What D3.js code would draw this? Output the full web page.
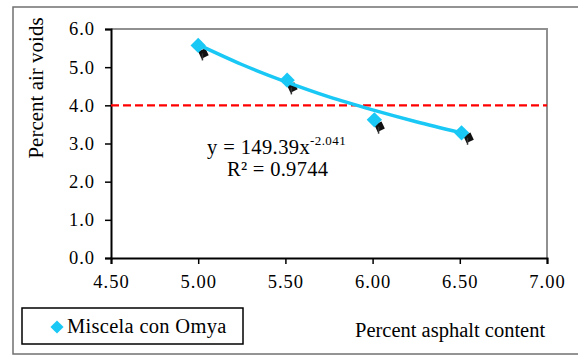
<!DOCTYPE html>
<html>
<head>
<meta charset="utf-8">
<script src="https://cdn.jsdelivr.net/npm/d3@7"></script>
<style>
  body { margin: 0; background: #fff; }
  svg { display: block; font-family: "Liberation Serif", "Times New Roman", serif; }
</style>
</head>
<body>
<svg id="chart" width="578" height="355"></svg>
<script>
// measured points (Miscela con Omya)
const asphalt = [5.00, 5.51, 6.01, 6.51]
const airVoids = [5.57, 4.66, 3.62, 3.28]
// dark shadow markers drawn under the cyan ones
const shadowX = [5.03, 5.54, 6.04, 6.55]
const shadowY = [5.36, 4.47, 3.44, 3.15]
// power trendline
const trendX = [5.00, 5.25, 5.50, 5.75, 6.00, 6.25, 6.50]
const trendY = [5.59, 5.07, 4.62, 4.22, 3.88, 3.57, 3.29]
const xTicks = [4.5, 5.0, 5.5, 6.0, 6.5, 7.0]
const yTicks = [0, 1, 2, 3, 4, 5, 6]
const limitLine = 4.0
const seriesName = 'Miscela con Omya'

const svg = d3.select('#chart')
const cyan = '#19c8f5'

// outer frame
svg.append('rect')
    .attr('x', 13).attr('y', 7)
    .attr('width', 580).attr('height', 347)
    .attr('fill', 'none')
    .attr('stroke', '#707070')
    .attr('stroke-width', 1.5)

const plotL = 111, plotR = 547, plotT = 29, plotB = 258

const x = d3.scaleLinear().domain([4.5, 7.0]).range([plotL, plotR])
const y = d3.scaleLinear().domain([0, 6]).range([plotB, plotT])

// plot area border (top/right grey)
svg.append('path')
    .attr('d', `M${plotL},${plotT}H${plotR}V${plotB}`)
    .attr('fill', 'none')
    .attr('stroke', '#909090')
    .attr('stroke-width', 2)

// y axis
const yAxis = svg.append('g')
    .attr('transform', `translate(${plotL},0)`)
    .call(d3.axisLeft(y).tickValues(yTicks).tickFormat(d3.format('.1f')).tickSize(6).tickPadding(10))
yAxis.select('.domain').attr('stroke', '#000').attr('stroke-width', 2)
yAxis.selectAll('.tick line').attr('stroke', '#000').attr('stroke-width', 1.5)
yAxis.selectAll('.tick text')
    .style('font-size', '18.5px')
    .style('letter-spacing', '1px')
    .style('font-family', '"Liberation Serif", serif')
    .attr('fill', '#000')

// x axis
const xAxis = svg.append('g')
    .attr('transform', `translate(0,${plotB})`)
    .call(d3.axisBottom(x).tickValues(xTicks).tickFormat(d3.format('.2f')).tickSize(6).tickPadding(11))
xAxis.select('.domain').attr('stroke', '#000').attr('stroke-width', 2)
xAxis.selectAll('.tick line').attr('stroke', '#000').attr('stroke-width', 1.5)
xAxis.selectAll('.tick text')
    .style('font-size', '18.5px')
    .style('letter-spacing', '1px')
    .style('font-family', '"Liberation Serif", serif')
    .attr('fill', '#000')

// 4% limit
svg.append('line')
    .attr('x1', x(4.5)).attr('x2', x(7.0))
    .attr('y1', y(limitLine)).attr('y2', y(limitLine))
    .attr('stroke', '#ff0000')
    .attr('stroke-width', 2.2)
    .attr('stroke-dasharray', '8,4')

const diamond = d3.symbol().type(d3.symbolDiamond2)

// shadow markers
svg.append('g').selectAll('path')
    .data(shadowX.map((d, i) => [d, shadowY[i]]))
    .join('path')
    .attr('transform', d => `translate(${x(d[0])},${y(d[1])}) rotate(20)`)
    .attr('d', diamond.size(80)())
    .attr('fill', '#111')
svg.append('g').selectAll('line')
    .data(shadowX.map((d, i) => [d, shadowY[i]]))
    .join('line')
    .attr('x1', d => x(d[0]) - 1).attr('x2', d => x(d[0]) - 1)
    .attr('y1', d => y(d[1])).attr('y2', d => y(d[1]) + 7)
    .attr('stroke', '#333').attr('stroke-width', 1.5)

// trendline
const line = d3.line().x(d => x(d[0])).y(d => y(d[1])).curve(d3.curveMonotoneX)
svg.append('path')
    .datum(trendX.map((d, i) => [d, trendY[i]]))
    .attr('d', line)
    .attr('fill', 'none')
    .attr('stroke', cyan)
    .attr('stroke-width', 3.5)

// cyan markers
svg.append('g').selectAll('path')
    .data(asphalt.map((d, i) => [d, airVoids[i]]))
    .join('path')
    .attr('transform', d => `translate(${x(d[0])},${y(d[1])})`)
    .attr('d', diamond.size(150)())
    .attr('fill', cyan)

// equation
const eq = svg.append('text')
    .attr('x', 207).attr('y', 154)
    .style('font-size', '20.5px')
    .style('letter-spacing', '0.4px')
    .attr('fill', '#000')
eq.append('tspan').text('y = 149.39x')
eq.append('tspan').attr('dy', -9).style('font-size', '13px').text('-2.041')
svg.append('text')
    .attr('x', 227).attr('y', 176)
    .style('font-size', '20.5px')
    .style('letter-spacing', '0.3px')
    .attr('fill', '#000')
    .text('R² = 0.9744')

// y title
svg.append('text')
    .attr('transform', 'translate(43,88) rotate(-90)')
    .attr('text-anchor', 'middle')
    .style('font-size', '21px')
    .attr('fill', '#000')
    .text('Percent air voids')

// x title
svg.append('text')
    .attr('x', 355).attr('y', 337)
    .style('font-size', '20.5px')
    .attr('fill', '#000')
    .text('Percent asphalt content')

// legend
svg.append('rect')
    .attr('x', 22).attr('y', 308)
    .attr('width', 221).attr('height', 36)
    .attr('fill', '#fff')
    .attr('stroke', '#000')
    .attr('stroke-width', 1.5)
svg.append('path')
    .attr('transform', 'translate(57,327)')
    .attr('d', diamond.size(110)())
    .attr('fill', cyan)
svg.append('text')
    .attr('x', 67).attr('y', 333)
    .style('font-size', '20.5px')
    .style('letter-spacing', '0.3px')
    .attr('fill', '#000')
    .text(seriesName)
</script>
</body>
</html>
